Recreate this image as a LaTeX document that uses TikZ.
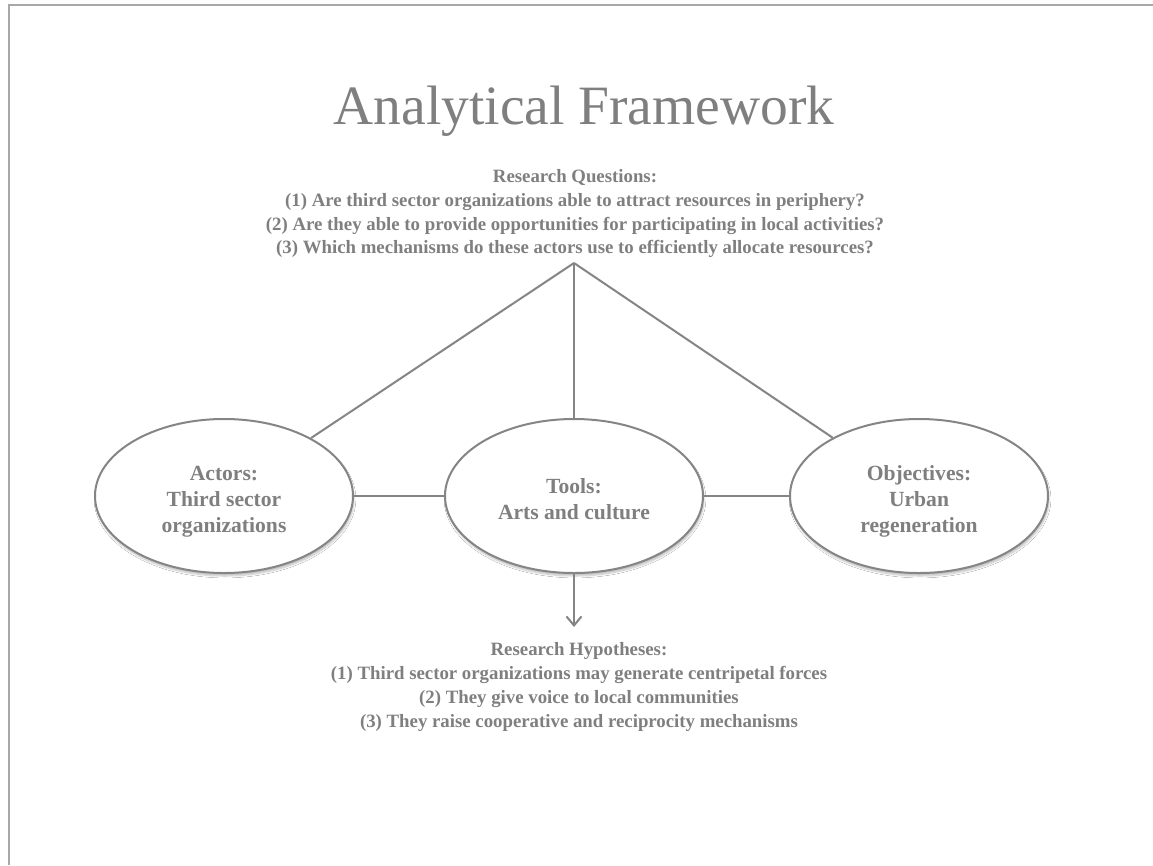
\documentclass[tikz,border=0pt]{standalone}
\usepackage{fontspec}
\setmainfont{Liberation Serif}
\usetikzlibrary{arrows.meta,shapes.geometric,shadows.blur}
\definecolor{txtgray}{HTML}{7F7F7F}
\definecolor{linegray}{HTML}{858585}
\definecolor{framegray}{HTML}{A8A8A8}
\newcommand\ovtop{\rule{0pt}{26pt}}
\newcommand\ovbot{\rule[-6pt]{0pt}{6pt}}
\tikzset{
  framebox/.style={draw=framegray, line width=2.2pt},
  conn/.style={draw=linegray, line width=2pt},
  arrowconn/.style={conn, -{Straight Barb[length=9pt,width=15pt,line width=2pt]}},
  oval/.style={ellipse, draw=linegray, line width=2pt, fill=white,
    minimum width=258pt, minimum height=154pt, inner sep=0pt,
    align=center, text=txtgray,
    font=\fontsize{21.6}{26}\selectfont\bfseries,
    blur shadow={shadow xshift=1pt, shadow yshift=-3pt, shadow opacity=25, shadow blur steps=6}},
  qtext/.style={anchor=base, text=txtgray, inner sep=0pt,
    font=\fontsize{18.8}{22}\selectfont\bfseries},
  titletext/.style={anchor=base, text=txtgray, inner sep=0pt,
    font=\fontsize{55.5}{60}\selectfont}
}
\begin{document}
\begin{tikzpicture}[x=1pt,y=-1pt]
\useasboundingbox (0,0) rectangle (1153,865);
\fill[white] (0,0) rectangle (1153,865);
\draw[framebox] (9,865) -- (9,5) -- (1153,5);

\node[titletext] (title) at (584,124) {Analytical Framework};

\node[qtext] (q0) at (575,182) {Research Questions:};
\node[qtext] (q1) at (575,206) {(1) Are third sector organizations able to attract resources in periphery?};
\node[qtext] (q2) at (575,230) {(2) Are they able to provide opportunities for participating in local activities?};
\node[qtext] (q3) at (575,253) {(3) Which mechanisms do these actors use to efficiently allocate resources?};

\coordinate (apex) at (574,263);

\node[oval] (actors) at (224,496) {\ovtop Actors:\\Third sector\\organizations\ovbot};
\node[oval] (tools) at (574,496) {\ovtop Tools:\\Arts and culture\ovbot};
\node[oval] (objectives) at (919,496) {\ovtop Objectives:\\Urban\\regeneration\ovbot};

\draw[conn] (apex) -- (actors);
\draw[conn] (apex) -- (tools);
\draw[conn] (apex) -- (objectives);
\draw[conn] (actors) -- (tools);
\draw[conn] (tools) -- (objectives);

\coordinate (hyp) at (574,627);
\draw[arrowconn] (tools) -- (hyp);

\node[qtext] (h0) at (579,655) {Research Hypotheses:};
\node[qtext] (h1) at (579,679) {(1) Third sector organizations may generate centripetal forces};
\node[qtext] (h2) at (579,703) {(2) They give voice to local communities};
\node[qtext] (h3) at (579,727) {(3) They raise cooperative and reciprocity mechanisms};
\end{tikzpicture}
\end{document}
